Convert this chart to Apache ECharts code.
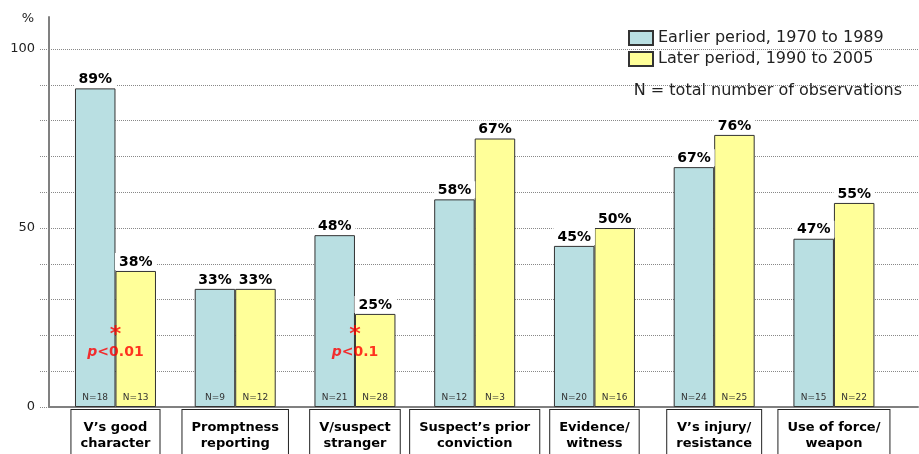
<!DOCTYPE html>
<html><head><meta charset="utf-8">
<script src="https://cdn.jsdelivr.net/npm/echarts@6/dist/echarts.min.js"></script>
<style>html,body{margin:0;padding:0;background:#fff}#c{width:919px;height:454px}</style>
</head><body><div id="c"></div>
<script>
const categories = ["V’s good\ncharacter","Promptness\nreporting","V/suspect\nstranger","Suspect’s prior\nconviction","Evidence/\nwitness","V’s injury/\nresistance","Use of force/\nweapon"];
const earlier = [89, 33, 48, 58, 45, 67, 47];
const later = [38, 33, 26, 75, 50, 76, 57];
const earlierLabels = ['89%','33%','48%','58%','45%','67%','47%'];
const laterLabels = ['38%','33%','25%','67%','50%','76%','55%'];
const earlierN = [18, 9, 21, 12, 20, 24, 15];
const laterN = [13, 12, 28, 3, 16, 25, 22];
const sigCategories = ["V’s good\ncharacter", "V/suspect\nstranger"];
const sigLevels = ['0.01', '0.1'];
const sigY = [17.6, 17.6];
const yTickLabels = [0, 50, 100];
const seriesNames = ['Earlier period, 1970 to 1989', 'Later period, 1990 to 2005'];
const noteText = 'N = total number of observations';

const FONT = 'DejaVu Sans';
const chart = echarts.init(document.getElementById('c'), null, {renderer: 'canvas'});
const barBase = {
  type: 'bar', xAxisIndex: 2, yAxisIndex: 2, barWidth: 40.5, barGap: '0%'
};
const valueLabel = (arr) => ({
  show: true, position: 'top', distance: 1,
  formatter: p => arr[p.dataIndex],
  fontFamily: FONT, fontWeight: 'bold', fontSize: 14, color: '#000',
  backgroundColor: '#fff', padding: [2, 4, 1, 4]
});
const nLabel = (arr) => ({
  show: true, position: 'insideBottom', distance: 5,
  formatter: p => 'N=' + arr[p.dataIndex],
  fontFamily: FONT, fontSize: 9, color: '#333'
});
chart.setOption({
  animation: false,
  textStyle: {fontFamily: FONT},
  title: {text: noteText, right: 17, top: 83, padding: 0,
    textStyle: {fontFamily: FONT, fontSize: 16, fontWeight: 'normal', color: '#222'}},
  legend: {
    data: seriesNames, orient: 'vertical', left: 628, top: 30,
    itemWidth: 24, itemHeight: 14, itemGap: 5, icon: 'rect', padding: 0,
    textStyle: {fontFamily: FONT, fontSize: 16, color: '#222'}
  },
  grid: [
    {left: 49, right: 1, top: 17, bottom: 47, outerBoundsMode: 'none', containLabel: false},
    {left: 49, right: 1, top: 49, bottom: 47, outerBoundsMode: 'none', containLabel: false},
    {left: 55.6, right: 25.2, top: 49, bottom: 47, outerBoundsMode: 'none', containLabel: false}
  ],
  xAxis: [
    {gridIndex: 0, type: 'category', data: [''],
      axisLine: {lineStyle: {color: '#808080', width: 2}}, axisTick: {show: false}, axisLabel: {show: false}},
    {gridIndex: 1, type: 'value', show: false, min: 0, max: 1},
    {gridIndex: 2, type: 'category', data: categories,
      axisLine: {show: false}, axisTick: {show: false},
      axisLabel: {interval: 0, margin: 3, fontFamily: FONT, fontWeight: 'bold', fontSize: 13, color: '#000',
        lineHeight: 16, borderColor: '#222', borderWidth: 1, padding: [10, 9, 16, 9],
        backgroundColor: '#fff', align: 'center'}},
    {gridIndex: 2, type: 'category', data: categories, show: false}
  ],
  yAxis: [
    {gridIndex: 0, type: 'value', min: 0, max: 109,
      axisLine: {show: true, lineStyle: {color: '#808080', width: 2}},
      axisTick: {show: false}, axisLabel: {show: false}, splitLine: {show: false},
      name: '%', nameLocation: 'end', nameGap: -2,
      nameTextStyle: {align: 'right', verticalAlign: 'middle', padding: [0, 15, 0, 0], fontSize: 13, color: '#222', fontFamily: FONT}},
    {gridIndex: 1, type: 'value', min: 0, max: 100, interval: 10,
      axisLine: {show: false},
      axisTick: {show: true, length: 9, lineStyle: {color: '#888', type: [1, 1]}},
      axisLabel: {formatter: v => yTickLabels.includes(v) ? String(v) : '', margin: 14, fontSize: 13, color: '#222', fontFamily: FONT},
      splitLine: {show: true, lineStyle: {color: '#888', type: [1, 1]}}},
    {gridIndex: 2, type: 'value', min: 0, max: 100, show: false}
  ],
  series: [
    Object.assign({}, barBase, {name: seriesNames[0], data: earlier,
      itemStyle: {color: '#B9DFE2', borderColor: '#333', borderWidth: 1}, label: valueLabel(earlierLabels)}),
    Object.assign({}, barBase, {name: seriesNames[1], data: later,
      itemStyle: {color: '#FFFF99', borderColor: '#333', borderWidth: 1}, label: valueLabel(laterLabels)}),
    Object.assign({}, barBase, {name: 'nE', xAxisIndex: 3, data: earlier, silent: true,
      itemStyle: {color: 'rgba(0,0,0,0)'}, label: nLabel(earlierN)}),
    Object.assign({}, barBase, {name: 'nL', xAxisIndex: 3, data: later, silent: true,
      itemStyle: {color: 'rgba(0,0,0,0)'}, label: nLabel(laterN)}),
    {type: 'scatter', xAxisIndex: 2, yAxisIndex: 2, symbolSize: 0, silent: true,
      data: sigCategories.map((c, i) => [c, sigY[i]]),
      label: {show: true, position: 'inside', color: '#FF0000',
        formatter: p => '{s|*}\n{p|p}{t|<' + sigLevels[p.dataIndex] + '}',
        rich: {
          s: {fontFamily: FONT, fontWeight: 'bold', fontSize: 22, color: '#FF0000', lineHeight: 17, align: 'center'},
          p: {fontFamily: FONT, fontWeight: 'bold', fontStyle: 'italic', fontSize: 14, color: '#FF0000', lineHeight: 18},
          t: {fontFamily: FONT, fontWeight: 'bold', fontSize: 14, color: '#FF0000', lineHeight: 18}
        }}}
  ]
});
</script></body></html>
